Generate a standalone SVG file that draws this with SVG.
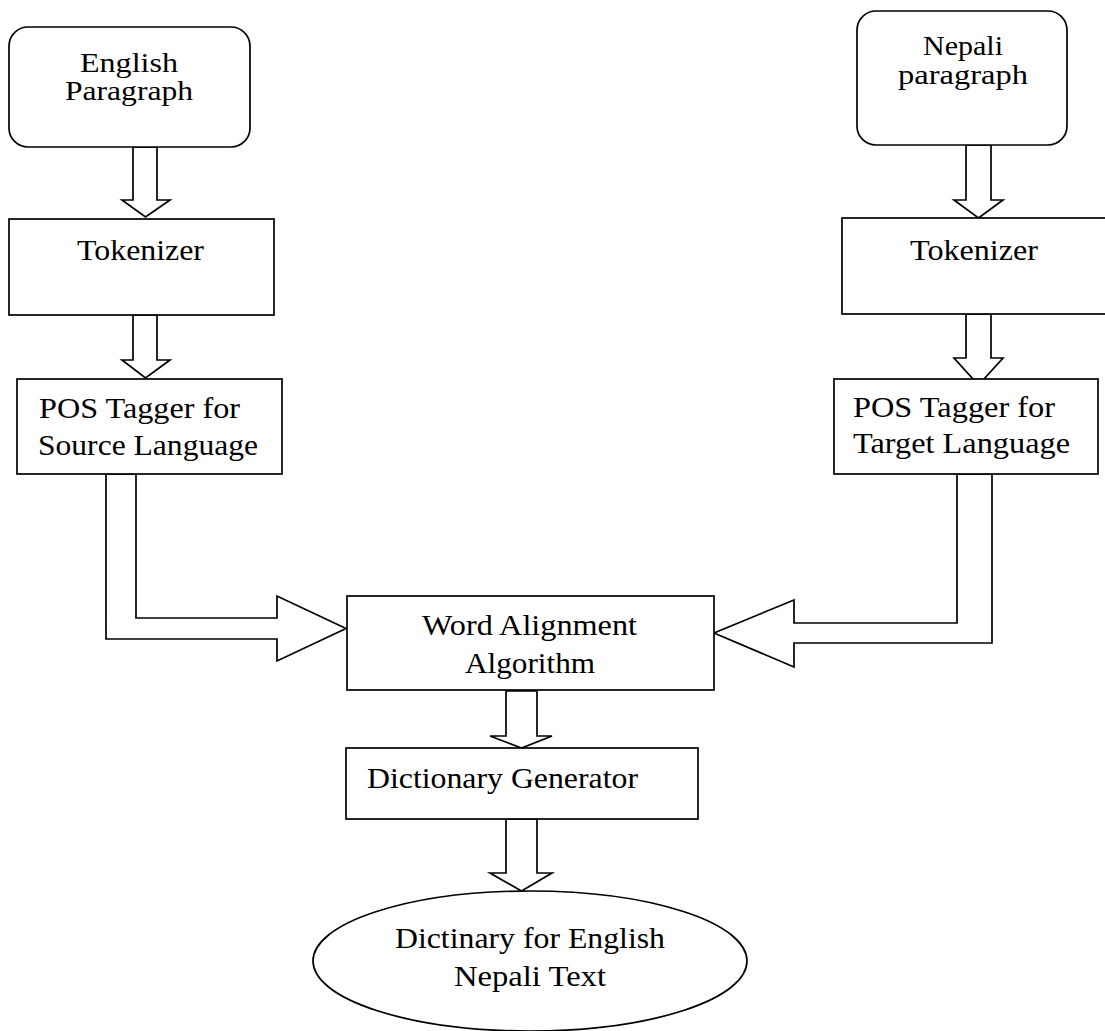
<svg xmlns="http://www.w3.org/2000/svg" width="1105" height="1031" viewBox="0 0 1105 1031">
<style>
.s{fill:#fff;stroke:#000;stroke-width:1.7}
.t{font-family:"Liberation Serif","Times New Roman",Tinos,serif;font-size:30px;fill:#000}
.sm{font-size:28px}
.c{text-anchor:middle}
</style>
<rect width="1105" height="1031" fill="#fff"/>
<g id="connectors">
<polygon class="s" points="133,147 157,147 157,200 170,200 145.5,217 122,200 133,200"/>
<polygon class="s" points="133,315 157,315 157,360 170,360 145.5,378 122,360 133,360"/>
<polygon class="s" points="966,145 991,145 991,200 1003,200 978.5,218 954,200 966,200"/>
<polygon class="s" points="966,314 991,314 991,358 1003,358 978.5,385 954,358 966,358"/>
<polygon class="s" points="106,474 136,474 136,618 277,618 277,596 346,628.5 277,661 277,639 106,639"/>
<polygon class="s" points="992,474 957,474 957,623 794,623 794,600 714,633 794,667 794,643 992,643"/>
<polygon class="s" points="506,691 537,691 537,736 552,736 521.5,748 490,736 506,736"/>
<polygon class="s" points="506,819 537,819 537,873 552,873 521.5,891 490,873 506,873"/>
</g>
<g id="english">
<rect class="s" x="9" y="27" width="241" height="120" rx="19"/>
<text class="t sm c" x="129" y="72" textLength="98" lengthAdjust="spacingAndGlyphs">English</text>
<text class="t sm c" x="129" y="100" textLength="128" lengthAdjust="spacingAndGlyphs">Paragraph</text>
</g>
<g id="nepali">
<rect class="s" x="857" y="11" width="210" height="134" rx="19"/>
<text class="t sm c" x="963" y="55" textLength="80" lengthAdjust="spacingAndGlyphs">Nepali</text>
<text class="t sm c" x="963" y="84" textLength="130" lengthAdjust="spacingAndGlyphs">paragraph</text>
</g>
<g id="tokenizer-left">
<rect class="s" x="9" y="219" width="265" height="96"/>
<text class="t c" x="140.5" y="260" textLength="127" lengthAdjust="spacingAndGlyphs">Tokenizer</text>
</g>
<g id="tokenizer-right">
<rect class="s" x="842" y="218" width="270" height="96"/>
<text class="t c" x="974" y="260" textLength="128" lengthAdjust="spacingAndGlyphs">Tokenizer</text>
</g>
<g id="pos-source">
<rect class="s" x="17" y="379" width="265" height="95"/>
<text class="t" x="39" y="418" textLength="201" lengthAdjust="spacingAndGlyphs">POS Tagger for</text>
<text class="t" x="38" y="455" textLength="220" lengthAdjust="spacingAndGlyphs">Source Language</text>
</g>
<g id="pos-target">
<rect class="s" x="834" y="379" width="264" height="95"/>
<text class="t" x="853" y="417" textLength="202" lengthAdjust="spacingAndGlyphs">POS Tagger for</text>
<text class="t" x="853" y="453" textLength="217" lengthAdjust="spacingAndGlyphs">Target Language</text>
</g>
<g id="word-alignment">
<rect class="s" x="347" y="596" width="367" height="94"/>
<text class="t c" x="529.5" y="635" textLength="215" lengthAdjust="spacingAndGlyphs">Word Alignment</text>
<text class="t c" x="530" y="673" textLength="130" lengthAdjust="spacingAndGlyphs">Algorithm</text>
</g>
<g id="dictionary-generator">
<rect class="s" x="346" y="748" width="352" height="71"/>
<text class="t" x="367" y="788" textLength="271" lengthAdjust="spacingAndGlyphs">Dictionary Generator</text>
</g>
<g id="dictionary-output">
<ellipse class="s" cx="530" cy="961" rx="217" ry="70"/>
<text class="t c" x="530" y="948" textLength="270" lengthAdjust="spacingAndGlyphs">Dictinary for English</text>
<text class="t c" x="530" y="986" textLength="152" lengthAdjust="spacingAndGlyphs">Nepali Text</text>
</g>
</svg>
